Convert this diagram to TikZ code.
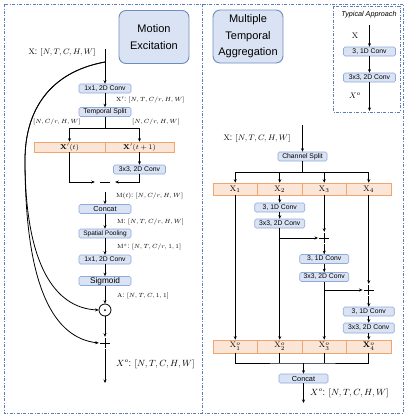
\documentclass[tikz,border=0pt]{standalone}
\usepackage[no-math]{fontspec}
\setmainfont{Liberation Sans}
\usetikzlibrary{arrows.meta}
\definecolor{bfill}{HTML}{DAE3F3}
\definecolor{bdraw}{HTML}{8FAADC}
\definecolor{tdraw}{HTML}{6F8DC0}
\definecolor{ofill}{HTML}{FBE5D6}
\definecolor{odraw}{HTML}{F0A46E}
\definecolor{fcol}{HTML}{5B7DB8}
\newcommand\myfs[1]{\fontsize{#1}{#1}\selectfont}
\tikzset{
 blk/.style={draw=bdraw, fill=bfill, rounded corners=1.5pt, line width=0.6pt, minimum width=52pt, minimum height=9pt, inner sep=0pt, font=\myfs{6.8}},
 ttl/.style={draw=tdraw, fill=bfill, rounded corners=7pt, line width=0.9pt, minimum width=70pt, minimum height=53pt, inner sep=1pt, align=center, font=\fontsize{11}{16.5}\selectfont},
 org/.style={draw=odraw, fill=ofill, line width=0.6pt, minimum height=10pt, inner sep=0pt, font=\myfs{7.5}},
 lbl/.style={anchor=west, inner sep=0pt, font=\myfs{6.5}},
 arr/.style={-{Stealth[length=3.5pt,width=3pt]}, line width=0.8pt},
 ln/.style={line width=0.8pt},
 frm/.style={draw=fcol, line width=0.9pt, dash pattern=on 3pt off 1.5pt on 0.8pt off 1.5pt},
 pls/.style={minimum size=12pt, inner sep=0pt, path picture={\draw[line width=0.9pt] ([xshift=-5pt]path picture bounding box.center) -- ([xshift=5pt]path picture bounding box.center) ([yshift=-5pt]path picture bounding box.center) -- ([yshift=5pt]path picture bounding box.center);}},
 mns/.style={minimum width=20pt, minimum height=20pt, inner sep=0pt, path picture={\draw[line width=0.9pt] ([xshift=-5pt]path picture bounding box.center) -- ([xshift=5pt]path picture bounding box.center);}},
 odt/.style={circle, draw, line width=0.8pt, minimum size=12pt, inner sep=0pt, path picture={\fill (path picture bounding box.center) circle (1pt);}},
}
\begin{document}
\begin{tikzpicture}[x=1pt,y=-1pt]
\useasboundingbox (0,0) rectangle (409,418);
\draw[frm] (4,4) rectangle (403,413);
\draw[frm] (202,4) -- (202,413);
\draw[frm] (333,6) rectangle (400,112);

% ---------------- left panel
\node[ttl] (me) at (154,37) {Motion\\Excitation};
\node[inner sep=0pt, font=\myfs{8.5}] (xin) at (62,52) {$\mathrm{X}$: $[N,T,C,H,W]$};
\coordinate (ltop) at (105,49);
\coordinate (cs) at (105,62);
\node[blk] (c1) at (105,88.5) {1x1, 2D Conv};
\node[lbl] (l1) at (116,100) {$\mathrm{X}'$: $[N,T,C/r,H,W]$};
\node[blk] (ts) at (105,112) {Temporal Split};
\node[inner sep=0pt, font=\myfs{6.5}] (l2) at (57,122) {$[N,C/r,H,W]$};
\node[inner sep=0pt, font=\myfs{6.5}] (l3) at (156,122) {$[N,C/r,H,W]$};
\coordinate (fk) at (105,128);
\node[org, minimum width=71pt] (xt) at (69.5,147) {$\mathbf{X}'(t)$};
\node[org, minimum width=69pt] (xt1) at (139.5,147) {$\mathbf{X}'(t+1)$};
\node[blk] (c3) at (139.5,169.5) {3x3, 2D Conv};
\node[mns] (mn) at (105,182) {};
\node[lbl] (l4) at (116,196) {$\mathrm{M}(t)$: $[N,C/r,H,W]$};
\node[blk, font=\myfs{7.3}] (cc) at (105,209) {Concat};
\node[lbl] (l5) at (117,222) {$\mathrm{M}$: $[N,T,C/r,H,W]$};
\node[blk, font=\myfs{6.5}] (pool) at (105,233.5) {Spatial Pooling};
\node[lbl] (l6) at (117,247) {$\mathrm{M}^s$: $[N,T,C/r,1,1]$};
\node[blk] (c1b) at (105,259.5) {1x1, 2D Conv};
\node[blk, font=\myfs{8.3}] (sig) at (105,281) {Sigmoid};
\node[lbl] (l7) at (117,296) {$\mathrm{A}$: $[N,T,C,1,1]$};
\node[odt] (od) at (105,310) {};
\node[pls] (pl) at (105,343) {};
\node[lbl, font=\myfs{9}] (l8) at (116,364) {$X^o$: $[N,T,C,H,W]$};
\coordinate (lend) at (105,383);

\draw[arr] (ltop) -- (c1);
\draw[arr] (c1) -- (ts);
\draw[ln] (ts) -- (fk);
\draw[arr] (fk) -| (xt.north);
\draw[arr] (fk) -| (xt1.north);
\draw[arr] (xt1) -- (c3);
\draw[arr] (xt.south) |- (mn.west);
\draw[arr] (c3.south) |- (mn.east);
\draw[arr] (mn.south) -- (cc);
\draw[arr] (cc) -- (pool);
\draw[arr] (pool) -- (c1b);
\draw[arr] (c1b) -- (sig);
\draw[arr] (sig) -- (od);
\draw[arr] (od) -- (pl);
\draw[arr] (pl) -- (lend);
\draw[arr] (cs) .. controls (50,72) and (25,110) .. (25,160) .. controls (25,265) and (55,308) .. (od.west);
\draw[arr] (cs) .. controls (50,72) and (25,110) .. (25,160) .. controls (25,290) and (55,338) .. (pl.west);

% ---------------- right panel
\node[ttl] (mta) at (248,36.5) {Multiple\\Temporal\\Aggregation};
\node[inner sep=0pt, font=\myfs{7.2}\itshape] (tat) at (369,15) {Typical Approach};
\node[inner sep=0pt, font=\myfs{8}] (tx) at (355,36) {$\mathrm{X}$};
\coordinate (tt) at (369.5,25);
\node[blk] (ta1) at (369.5,51.5) {3, 1D Conv};
\node[blk] (ta2) at (369.5,77.5) {3x3, 2D Conv};
\node[inner sep=0pt, font=\myfs{8}] (txo) at (355,96) {$X^o$};
\coordinate (tb) at (369.5,111);
\draw[arr] (tt) -- (ta1);
\draw[arr] (ta1) -- (ta2);
\draw[arr] (ta2) -- (tb);

\node[inner sep=0pt, font=\myfs{8.5}] (xin2) at (257,138) {$\mathrm{X}$: $[N,T,C,H,W]$};
\coordinate (rtop) at (302.5,125);
\node[blk, minimum width=49pt] (csp) at (302.5,156.5) {Channel Split};
\coordinate (fk2) at (302.5,172);
\node[org, minimum width=44.5pt, minimum height=12pt, font=\myfs{8}] (x1) at (235.25,189) {$\mathrm{X}_1$};
\node[org, minimum width=44.5pt, minimum height=12pt, font=\myfs{8}] (x2) at (279.75,189) {$\mathrm{X}_2$};
\node[org, minimum width=44.5pt, minimum height=12pt, font=\myfs{8}] (x3) at (324.25,189) {$\mathrm{X}_3$};
\node[org, minimum width=44.5pt, minimum height=12pt, font=\myfs{8}] (x4) at (368.75,189) {$\mathrm{X}_4$};
\node[blk, minimum width=50pt] (c2a) at (279.75,207.5) {3, 1D Conv};
\node[blk, minimum width=50pt] (c2b) at (279.75,223.5) {3x3, 2D Conv};
\node[pls] (p2) at (324.25,238) {};
\node[blk, minimum width=49pt] (c3a) at (324.25,259) {3, 1D Conv};
\node[blk, minimum width=49pt] (c3b) at (324.25,277) {3x3, 2D Conv};
\node[pls] (p3) at (368.75,290) {};
\node[blk, minimum width=51pt] (c4a) at (368.75,311.5) {3, 1D Conv};
\node[blk, minimum width=51pt, minimum height=10pt] (c4b) at (368.75,328) {3x3, 2D Conv};
\node[org, minimum width=44.5pt, minimum height=13pt, font=\myfs{8}] (y1) at (235.25,346.5) {$\mathrm{X}^o_1$};
\node[org, minimum width=44.5pt, minimum height=13pt, font=\myfs{8}] (y2) at (279.75,346.5) {$\mathrm{X}^o_2$};
\node[org, minimum width=44.5pt, minimum height=13pt, font=\myfs{8}] (y3) at (324.25,346.5) {$\mathrm{X}^o_3$};
\node[org, minimum width=44.5pt, minimum height=13pt, font=\myfs{8}] (y4) at (368.75,346.5) {$\mathbf{X}^o_4$};
\coordinate (mg) at (303.5,363);
\node[blk, minimum width=49pt, font=\myfs{7.3}] (cc2) at (303.5,378.5) {Concat};
\coordinate (rend) at (303.5,403);
\node[lbl, font=\myfs{9}] (l9) at (310,393) {$X^o$: $[N,T,C,H,W]$};
\coordinate (b2) at (279.75,238);
\coordinate (b3) at (324.25,290);

\draw[arr] (rtop) -- (csp);
\draw[ln] (csp) -- (fk2);
\draw[arr] (fk2) -| (x1.north);
\draw[arr] (fk2) -| (x2.north);
\draw[arr] (fk2) -| (x3.north);
\draw[arr] (fk2) -| (x4.north);
\draw[arr] (x1) -- (y1);
\draw[arr] (x2) -- (c2a);
\draw[arr] (c2a) -- (c2b);
\draw[arr] (c2b) -- (y2);
\draw[arr] (b2) -- (p2.west);
\draw[arr] (x3) -- (p2);
\draw[arr] (p2) -- (c3a);
\draw[arr] (c3a) -- (c3b);
\draw[arr] (c3b) -- (y3);
\draw[arr] (b3) -- (p3.west);
\draw[arr] (x4) -- (p3);
\draw[arr] (p3) -- (c4a);
\draw[arr] (c4a) -- (c4b);
\draw[arr] (c4b) -- (y4);
\draw[ln] (y1.south) |- (mg) -| (y4.south);
\draw[ln] (y2.south) -- (y2.south |- mg);
\draw[ln] (y3.south) -- (y3.south |- mg);
\draw[arr] (mg) -- (cc2);
\draw[arr] (cc2) -- (rend);
\end{tikzpicture}
\end{document}
